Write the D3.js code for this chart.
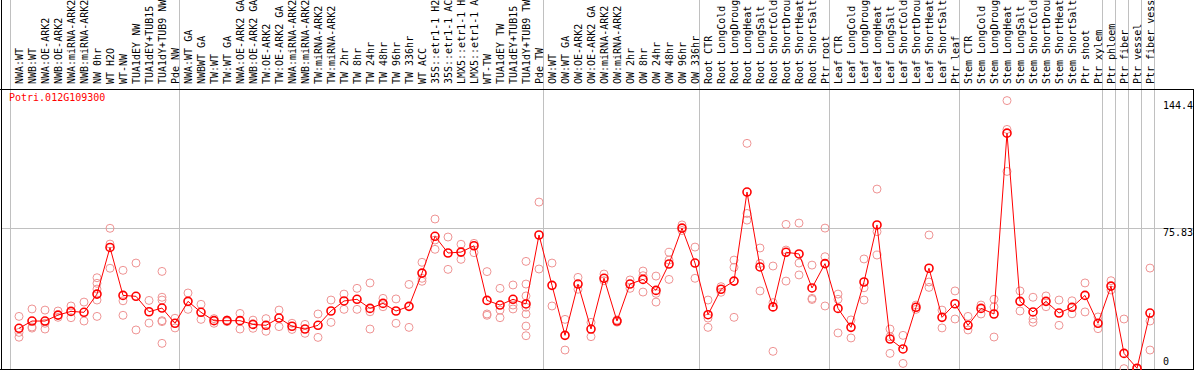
<!DOCTYPE html>
<html>
<head>
<meta charset="utf-8">
<script src="https://cdn.jsdelivr.net/npm/d3@7"></script>
<style>
  body { margin: 0; background: #fff; }
  svg { display: block; }
</style>
</head>
<body>
<div id="chart"></div>
<script>
// gene + samples
const geneName = "Potri.012G109300";

const samples = [
  "NWA:WT", "NWB:WT", "NWA:OE-ARK2", "NWB:OE-ARK2", "NWA:miRNA-ARK2", "NWB:miRNA-ARK2",
  "NW 0hr", "WT H2O", "WT-NW", "TUA1dEY NW", "TUA1dEY+TUB15 NW", "TUA1dY+TUB9 NW", "Pde NW",
  "NWA:WT GA", "NWBWT GA", "TW:WT", "TW:WT GA", "NWA:OE-ARK2 GA", "NWB:OE-ARK2 GA",
  "TW:OE-ARK2", "TW:OE-ARK2 GA", "NWA:miRNA-ARK2", "NWB:miRNA-ARK2", "TW:miRNA-ARK2",
  "TW:miRNA-ARK2", "TW 2hr", "TW 8hr", "TW 24hr", "TW 48hr", "TW 96hr", "TW 336hr",
  "WT ACC", "35S::etr1-1 H2O", "35S::etr1-1 ACC", "LMX5::etr1-1 H2O", "LMX5::etr1-1 ACC",
  "WT-TW", "TUA1dEY TW", "TUA1dEY+TUB15 TW", "TUA1dY+TUB9 TW", "Pde TW",
  "OW:WT", "OW:WT GA", "OW:OE-ARK2", "OW:OE-ARK2 GA", "OW:miRNA-ARK2", "OW:miRNA-ARK2",
  "OW 2hr", "OW 8hr", "OW 24hr", "OW 48hr", "OW 96hr", "OW 336hr",
  "Root CTR", "Root LongCold", "Root LongDrought", "Root LongHeat", "Root LongSalt",
  "Root ShortCold", "Root ShortDrought", "Root ShortHeat", "Root ShortSalt", "Ptr root",
  "Leaf CTR", "Leaf LongCold", "Leaf LongDrought", "Leaf LongHeat", "Leaf LongSalt",
  "Leaf ShortCold", "Leaf ShortDrought", "Leaf ShortHeat", "Leaf ShortSalt", "Ptr leaf",
  "Stem CTR", "Stem LongCold", "Stem LongDrought", "Stem LongHeat", "Stem LongSalt",
  "Stem ShortCold", "Stem ShortDrought", "Stem ShortHeat", "Stem ShortSalt",
  "Ptr shoot", "Ptr xylem", "Ptr phloem", "Ptr fiber", "Ptr vessel", "Ptr fiber vessel"
];

const means = [
  21.9, 25.8, 25.8, 29.0, 31.0, 30.5, 40.3, 65.4, 39.6, 39.1, 30.8, 32.8, 24.6,
  36.4, 30.5, 26.0, 26.0, 26.0, 24.0, 23.5, 27.4, 23.0, 21.5, 23.5, 31.2, 36.6,
  37.5, 32.6, 35.3, 31.2, 33.7, 51.6, 71.4, 62.4, 62.9, 66.3, 36.9, 34.4, 37.5,
  35.0, 72.1,
  45.0, 18.1, 45.7, 21.5, 48.8, 25.8, 45.7, 48.2, 42.3, 56.5, 75.8, 57.0,
  29.2, 42.9, 47.3, 95.2, 54.9, 33.4, 62.8, 61.9, 43.6, 56.7,
  32.6, 22.4, 46.8, 77.5, 16.1, 10.8, 33.2, 54.2, 27.8, 35.1,
  23.5, 32.6, 29.6, 126.9, 36.4, 30.7, 36.4, 30.1, 33.2,
  39.6, 24.6, 44.6, 8.4, 0.4, 30.1
];

const replicates = [
  [28.3, 19.7, 17.1], [32.3, 22.6, 22.0], [31.7, 24.6, 21.5], [31.2, 27.8], [33.9, 27.6],
  [36.0, 25.8], [49.1, 46.1, 43.0, 37.1, 28.3], [75.7, 67.2, 54.2], [53.1, 36.7, 28.9],
  [57.0, 21.0], [36.9, 24.7], [52.5, 38.6, 37.1, 26.0, 25.5, 13.8], [27.3, 22.1],
  [40.9, 32.1], [34.8, 26.7], [27.1, 24.6], [26.4, 25.5], [29.9, 21.5], [26.3, 21.9],
  [27.1, 20.3], [31.7, 22.8], [24.6, 21.3], [24.0, 19.2], [29.6, 17.0], [37.1, 25.1],
  [40.3, 32.1], [43.4, 32.1], [46.3, 30.8, 21.5], [38.0, 33.5], [37.7, 24.6], [45.5, 22.4],
  [57.4, 48.8, 47.2], [80.7, 69.4, 64.4], [71.0, 53.6], [67.1, 59.0], [67.6, 62.6],
  [52.4, 29.6, 28.9], [43.4, 31.7, 27.6], [45.2, 34.4, 32.3],
  [57.9, 45.7, 39.3, 33.2, 29.6, 23.1, 17.9], [89.8, 53.8],
  [57.0, 33.9], [26.7, 10.2], [49.3, 42.9], [25.1, 17.4], [51.1, 47.5], [26.4, 25.2],
  [47.9, 43.4], [52.7, 50.2, 41.4], [50.0, 40.7, 36.0], [62.8, 58.6, 48.2], [77.5, 74.5],
  [65.6, 48.8],
  [37.1, 27.4, 22.4], [44.3, 41.3], [58.6, 54.7, 27.8], [121.4, 83.7, 80.1],
  [65.1, 56.8, 42.0], [55.4, 35.7, 9.5], [77.8, 64.0, 47.3], [78.5, 57.0, 50.6],
  [55.9, 38.0, 37.4], [75.8, 60.4, 33.9],
  [40.3, 37.5, 19.4], [26.4, 16.7], [59.2, 43.7, 37.1], [96.8, 73.9, 61.3],
  [21.5, 17.4, 8.4], [18.1, 3.0], [34.4, 32.1], [72.1, 46.8, 43.9], [31.7, 22.1],
  [42.0, 26.9],
  [28.3, 21.0], [34.4, 29.6], [37.5, 33.4, 17.2], [144.4, 128.9, 106.3], [42.0, 31.2],
  [38.6, 26.9, 25.1], [39.3, 33.5], [37.1, 23.5], [36.7, 29.7],
  [46.3, 30.7], [28.0, 21.7], [47.5, 42.5], [26.9, 0.2], [0.2, 0.0], [54.3, 25.8, 10.2]
];

// group boundaries (sample index where a new group starts)
const groupBreaks = [0, 13, 41, 53, 63, 73, 84, 85, 86, 87, 88];
const yTicks = [0, 75.83, 144.4];

const width = 1194;
const height = 370;
const plotTop = 89;
const plotBottom = 369;
const red = "#ff0000";
const pink = "#ef9494";
const grid = "#c0c0c0";
const font = "'DejaVu Sans Mono', monospace";

const svg = d3.select("#chart")
  .append("svg")
    .attr("width", width)
    .attr("height", height);

const xScale = d3.scaleBand()
  .domain(d3.range(samples.length))
  .range([10, 10 + 13 * samples.length]);
const xPos = i => xScale(i) + 9;
const xEdge = k => 10 + k * xScale.bandwidth();

const yScale = d3.scaleLinear()
  .domain([0, 144.4])
  .range([plotBottom, 100.6]);

// gray group lines run through the label area too
svg.selectAll(".group-line")
  .data(groupBreaks)
  .join("line")
    .attr("class", "group-line")
    .attr("x1", d => xEdge(d) + 0.5)
    .attr("x2", d => xEdge(d) + 0.5)
    .attr("y1", 0)
    .attr("y2", plotBottom)
    .attr("stroke", grid);

// horizontal grid at the middle tick
svg.append("line")
  .attr("x1", 1)
  .attr("x2", width - 1)
  .attr("y1", Math.round(yScale(75.83)) + 0.5)
  .attr("y2", Math.round(yScale(75.83)) + 0.5)
  .attr("stroke", grid);

// frame
svg.append("line")
  .attr("x1", 1.5).attr("x2", 1.5)
  .attr("y1", 0).attr("y2", height)
  .attr("stroke", "#000");
svg.append("line")
  .attr("x1", 0).attr("x2", width)
  .attr("y1", plotTop + 0.5).attr("y2", plotTop + 0.5)
  .attr("stroke", "#000");
svg.append("line")
  .attr("x1", 0).attr("x2", width)
  .attr("y1", plotBottom + 0.5).attr("y2", plotBottom + 0.5)
  .attr("stroke", "#000");
svg.append("line")
  .attr("x1", width - 0.5).attr("x2", width - 0.5)
  .attr("y1", plotTop).attr("y2", height)
  .attr("stroke", "#000");

// sample labels, vertical
svg.selectAll(".sample-label")
  .data(samples)
  .join("text")
    .attr("class", "sample-label")
    .attr("transform", (d, i) => `translate(${xPos(i) + 4}, 84) rotate(-90)`)
    .attr("font-family", font)
    .attr("font-size", "10px")
    .attr("fill", "#000")
    .text(d => d);

// y tick labels on the right
const tickLabels = svg.selectAll(".tick-label")
  .data(yTicks)
  .join("text")
    .attr("class", "tick-label")
    .attr("x", 1163)
    .attr("y", d => d === 0 ? 365 : yScale(d) + 8)
    .attr("font-family", font)
    .attr("font-size", "10px")
    .attr("fill", "#000")
    .text(d => d === 0 ? "0" : d);

// gene title
svg.append("text")
  .attr("x", 9)
  .attr("y", 101)
  .attr("font-family", font)
  .attr("font-size", "10px")
  .attr("fill", red)
  .text(geneName);

// replicate points
const repPoints = replicates.flatMap((reps, i) => reps.map(v => ({i, v})));
svg.selectAll(".rep")
  .data(repPoints)
  .join("circle")
    .attr("class", "rep")
    .attr("cx", d => xPos(d.i))
    .attr("cy", d => yScale(d.v))
    .attr("r", 4)
    .attr("fill", "none")
    .attr("stroke", pink)
    .attr("stroke-width", 1);

// mean line
const lineGenerator = d3.line()
  .x((d, i) => xPos(i))
  .y(d => yScale(d));

svg.append("path")
  .attr("d", lineGenerator(means))
  .attr("fill", "none")
  .attr("stroke", red)
  .attr("stroke-width", 1);

svg.selectAll(".mean")
  .data(means)
  .join("circle")
    .attr("class", "mean")
    .attr("cx", (d, i) => xPos(i))
    .attr("cy", d => yScale(d))
    .attr("r", 4)
    .attr("fill", "none")
    .attr("stroke", red)
    .attr("stroke-width", 1.6);
</script>
</body>
</html>
